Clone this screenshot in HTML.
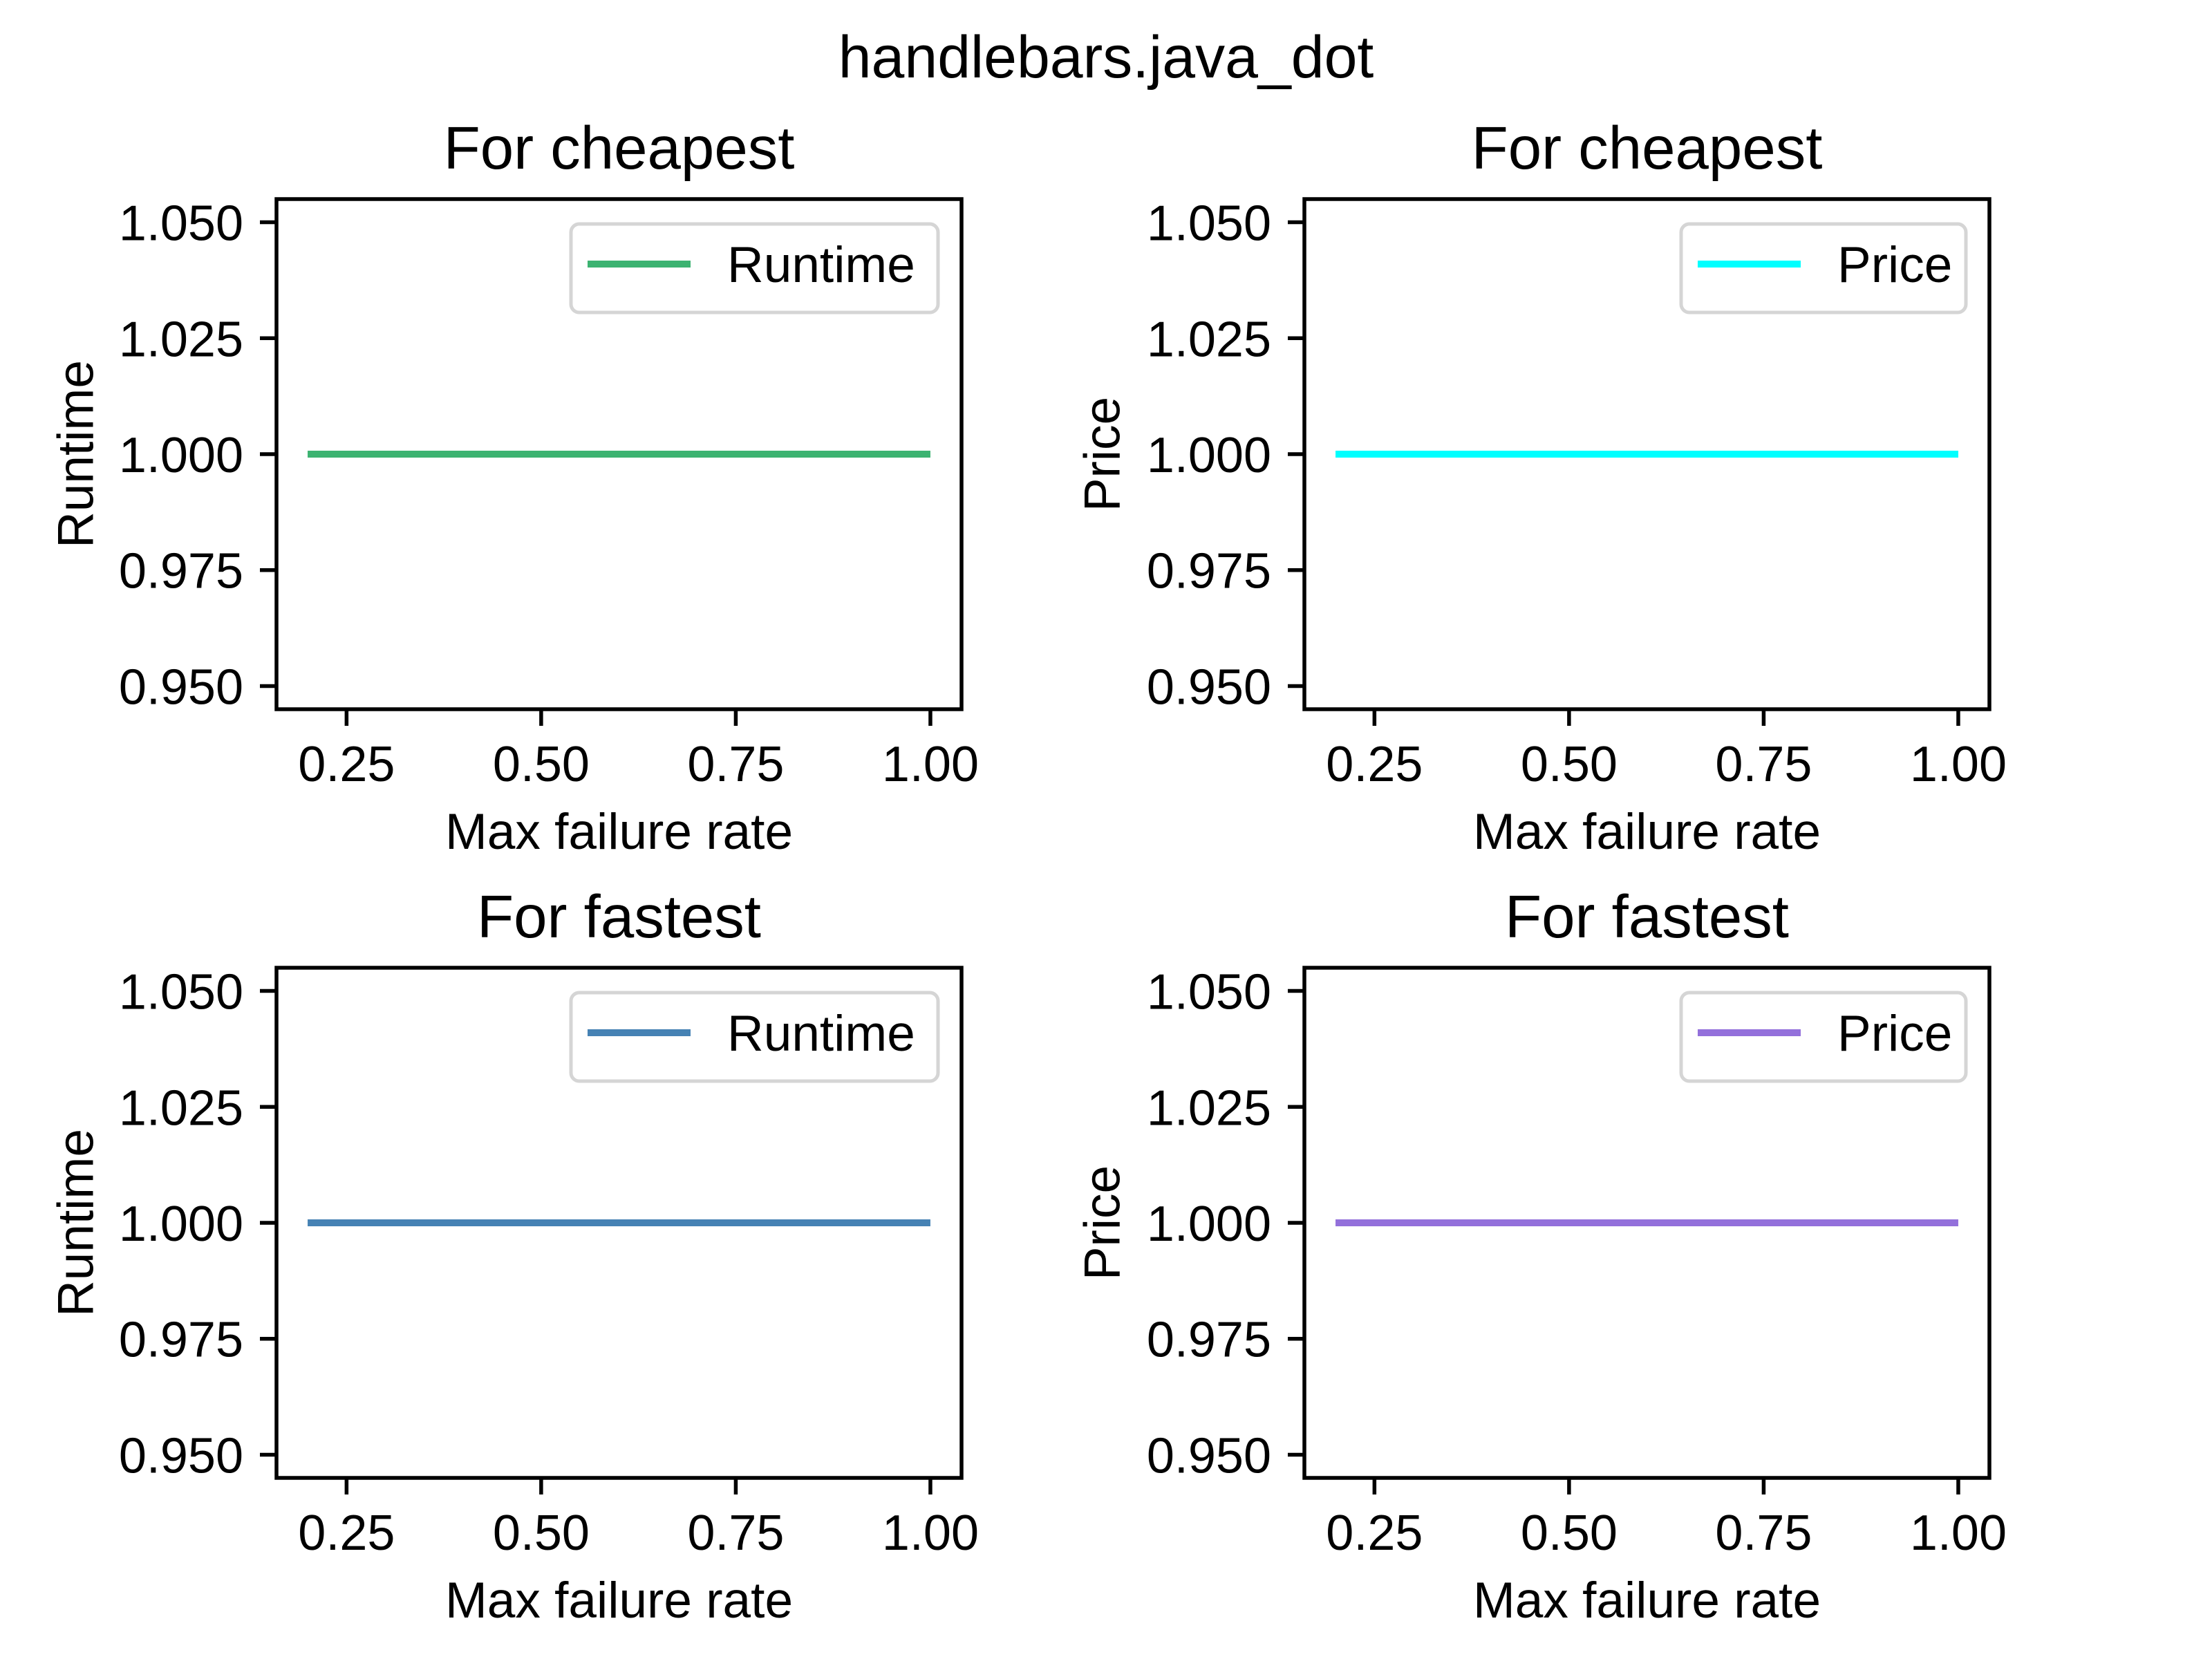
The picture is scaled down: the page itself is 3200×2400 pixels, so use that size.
<!DOCTYPE html>
<html><head><meta charset="utf-8">
<style>
html,body{margin:0;padding:0;background:#fff;}
svg{display:block;font-family:"Liberation Sans","Noto Sans CJK SC",sans-serif;}
</style></head>
<body>
<svg id="fig" width="3200" height="2400" viewBox="0 0 3200 2400" xmlns="http://www.w3.org/2000/svg">
<rect width="3200" height="2400" fill="#fff"/>
<text x="1600" y="112" font-size="86" text-anchor="middle">handlebars.java_dot</text>
</svg>
<script>
const xValues = [0.2, 0.4, 0.6, 0.8, 1.0];
const cheapRuntime = [1, 1, 1, 1, 1];
const cheapPrice = [1, 1, 1, 1, 1];
const fastRuntime = [1, 1, 1, 1, 1];
const fastPrice = [1, 1, 1, 1, 1];
const xTicks = [0.25, 0.5, 0.75, 1.0];
const xTickLabels = ["0.25", "0.50", "0.75", "1.00"];
const yTicks = [0.95, 0.975, 1.0, 1.025, 1.05];
const yTickLabels = ["0.950", "0.975", "1.000", "1.025", "1.050"];

const NS = "http://www.w3.org/2000/svg";
const svg = document.getElementById('fig');
function mk(tag, attrs, parent) {
  const e = document.createElementNS(NS, tag);
  for (const k in attrs) e.setAttribute(k, attrs[k]);
  (parent || svg).appendChild(e);
  return e;
}
const panels = [
  {id:'cheapest-runtime', L:400, R:1391, T:288, B:1026, title:'For cheapest', ylab:'Runtime', ylx:110, data:cheapRuntime, color:'#3cb371', leg:'Runtime', lx0:826, lx1:1357},
  {id:'cheapest-price', L:1887, R:2878, T:288, B:1026, title:'For cheapest', ylab:'Price', ylx:1595, data:cheapPrice, color:'#00ffff', leg:'Price', lx0:2432, lx1:2844},
  {id:'fastest-runtime', L:400, R:1391, T:1400, B:2138, title:'For fastest', ylab:'Runtime', ylx:110, data:fastRuntime, color:'#4682b4', leg:'Runtime', lx0:826, lx1:1357},
  {id:'fastest-price', L:1887, R:2878, T:1400, B:2138, title:'For fastest', ylab:'Price', ylx:1595, data:fastPrice, color:'#9370db', leg:'Price', lx0:2432, lx1:2844}
];
const xmin = 0.16, xmax = 1.04, ymin = 0.945, ymax = 1.055;
panels.forEach(p => {
  const g = mk('g', {});
  
  
  const xs = v => p.L + (v - xmin) / (xmax - xmin) * (p.R - p.L);
  const ys = v => p.B - (v - ymin) / (ymax - ymin) * (p.B - p.T);
  const pts = xValues.map((x, i) => xs(x) + ',' + ys(p.data[i])).join(' ');
  const line = mk('polyline', {points: pts, fill: 'none', stroke: p.color, 'stroke-width': 10}, g);
  
  
  const fr = mk('rect', {x: p.L, y: p.T, width: p.R - p.L, height: p.B - p.T, fill: 'none', stroke: '#000', 'stroke-width': 5.5}, g);
  
  
  xTicks.forEach((t, i) => {
    const x = xs(t);
    mk('line', {x1: x, x2: x, y1: p.B, y2: p.B + 24, stroke: '#000', 'stroke-width': 5.5}, g);
    const tx = mk('text', {x: x, y: p.B + 104, 'font-size': 72, 'text-anchor': 'middle'}, g);
    tx.textContent = xTickLabels[i];
    
    
  });
  yTicks.forEach((t, i) => {
    const y = ys(t);
    mk('line', {x1: p.L - 24, x2: p.L, y1: y, y2: y, stroke: '#000', 'stroke-width': 5.5}, g);
    const ty = mk('text', {x: p.L - 48, y: y + 26, 'font-size': 72, 'text-anchor': 'end'}, g);
    ty.textContent = yTickLabels[i];
    
    
  });
  const tt = mk('text', {x: (p.L + p.R) / 2, y: p.T - 44, 'font-size': 87, 'text-anchor': 'middle'}, g);
  tt.textContent = p.title;
  
  
  const xl = mk('text', {x: (p.L + p.R) / 2, y: p.B + 202, 'font-size': 73, 'text-anchor': 'middle'}, g);
  xl.textContent = 'Max failure rate';
  
  
  const cy = (p.T + p.B) / 2;
  const yl = mk('text', {x: p.ylx, y: cy, 'font-size': 73, 'text-anchor': 'middle', 'dominant-baseline': 'central', transform: 'rotate(-90 ' + p.ylx + ' ' + cy + ')'}, g);
  yl.textContent = p.ylab;
  
  
  const lg = mk('g', {}, g);
  
  
  const ly0 = p.T + 36;
  mk('rect', {x: p.lx0, y: ly0, width: p.lx1 - p.lx0, height: 128, rx: 12, fill: '#fff', stroke: '#d5d5d5', 'stroke-width': 5}, lg);
  mk('line', {x1: p.lx0 + 24, x2: p.lx0 + 173, y1: ly0 + 58, y2: ly0 + 58, stroke: p.color, 'stroke-width': 10}, lg);
  const lt = mk('text', {x: p.lx0 + 226, y: ly0 + 84, 'font-size': 73}, lg);
  lt.textContent = p.leg;
  
  
});
</script>
</body></html>
